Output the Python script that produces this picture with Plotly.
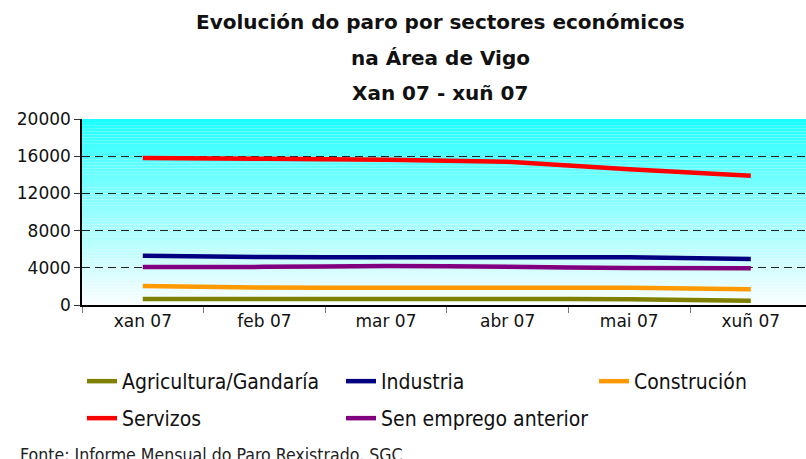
import plotly.graph_objects as go

months = ["xan 07", "feb 07", "mar 07", "abr 07", "mai 07", "xuñ 07"]
agricultura = [650, 640, 640, 640, 630, 460]
industria = [5300, 5150, 5130, 5130, 5140, 4950]
construcion = [2040, 1870, 1860, 1860, 1860, 1690]
servizos = [15800, 15720, 15620, 15400, 14600, 13900]
sen_emprego = [4090, 4100, 4200, 4100, 3980, 3950]
y_ticks = [0, 4000, 8000, 12000, 16000, 20000]

series_names = ["Agricultura/Gandaría", "Industria", "Construción", "Servizos", "Sen emprego anterior"]
series_values = [agricultura, industria, construcion, servizos, sen_emprego]
series_colors = ["#808000", "#000080", "#FF9900", "#FF0000", "#800080"]

W, H = 806, 459
ml, mr, mt, mb = 82, 0, 119, 459 - 305
pw = W - ml - mr
ph = H - mt - mb

# legend placement (text start x, row center y) in pixels
legend_pos = [(122, 381), (381, 381), (634, 381), (122, 418), (381, 418)]
legend_ids = ["legend", "legend2", "legend3", "legend4", "legend5"]

fig = go.Figure()
for name, vals, color, lg in zip(series_names, series_values, series_colors, legend_ids):
    fig.add_trace(go.Scatter(
        x=months, y=vals, name=name, mode="lines",
        line=dict(color=color, width=4.5, shape="spline", smoothing=0.3),
        legend=lg,
    ))

# gradient background
shapes = []
n = 60
for i in range(n):
    f0 = i / n
    f1 = (i + 1) / n
    fm = (f0 + f1) / 2
    t = (1 - fm) ** 0.85
    r = int(round(25 + (250 - 25) * t))
    g = int(round(255 - 2 * t))
    shapes.append(dict(
        type="rect", xref="paper", yref="y", x0=0, x1=1,
        y0=20000 * f0, y1=20000 * f1,
        fillcolor=f"rgb({r},{g},255)", line=dict(width=0), layer="below",
    ))

font_main = "DejaVu Sans"
font_leg = "DejaVu Sans Condensed"
cat_w = 121.6

layout = dict(
    width=W, height=H,
    margin=dict(l=ml, r=mr, t=mt, b=mb, autoexpand=False),
    paper_bgcolor="white", plot_bgcolor="rgba(0,0,0,0)",
    shapes=shapes,
    showlegend=True,
    xaxis=dict(
        type="category", range=[-0.5, -0.5 + pw / cat_w], automargin=False,
        showgrid=False, showline=True, linecolor="black", linewidth=1.5,
        ticks="outside", tickson="boundaries", ticklen=6, tickcolor="#777777",
        tickfont=dict(family=font_main, size=17, color="#111111"),
    ),
    yaxis=dict(
        range=[0, 20000], tickvals=y_ticks, ticktext=[str(v) for v in y_ticks],
        automargin=False,
        showgrid=True, gridcolor="#222222", gridwidth=1, griddash="8px,5px",
        showline=True, linecolor="black", linewidth=1.5,
        ticks="outside", ticklen=6, tickcolor="#333333",
        tickfont=dict(family=font_main, size=17, color="#111111"),
        zeroline=False,
    ),
)
for lg, (tx, ty) in zip(legend_ids, legend_pos):
    layout[lg] = dict(
        orientation="h", xref="container", yref="container",
        x=(tx - 40) / W, y=1 - (ty - 20) / H, xanchor="left", yanchor="top",
        font=dict(family=font_leg, size=21, color="#111111"),
        bgcolor="rgba(0,0,0,0)",
    )
fig.update_layout(**layout)


def px_to_paper_x(px):
    return (px - ml) / pw


def px_to_paper_y(py):
    return (H - mb - py) / ph


title_lines = ["Evolución do paro por sectores económicos", "na Área de Vigo", "Xan 07 - xuñ 07"]
title_y = [22, 58, 93]
for txt, yy in zip(title_lines, title_y):
    fig.add_annotation(
        text=f"<b>{txt}</b>", xref="paper", yref="paper",
        x=px_to_paper_x(440), y=px_to_paper_y(yy),
        xanchor="center", yanchor="middle", showarrow=False,
        font=dict(family=font_main, size=20, color="#111111"),
    )

fig.add_annotation(
    text="Fonte: Informe Mensual do Paro Rexistrado. SGC",
    xref="paper", yref="paper", x=px_to_paper_x(18), y=px_to_paper_y(443),
    xanchor="left", yanchor="top", showarrow=False,
    font=dict(family=font_leg, size=17.6, color="#222222"),
)

fig.write_html(
    "out.html",
    config={"displayModeBar": False},
    post_script="document.body.style.margin='0';document.body.style.overflow='hidden';",
)
